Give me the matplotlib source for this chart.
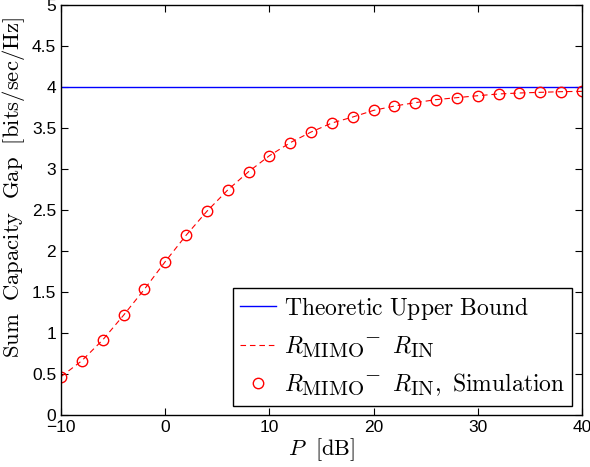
import matplotlib
matplotlib.use("Agg")
import matplotlib.pyplot as plt
import matplotlib._mathtext as mt
import numpy as np

# P [dB] and the sum capacity gap
p_db = np.arange(-10, 41, 2)
gap = [0.467, 0.662, 0.915, 1.216, 1.533, 1.870, 2.191, 2.484, 2.744, 2.967,
       3.162, 3.321, 3.451, 3.561, 3.634, 3.715, 3.768, 3.809, 3.846, 3.870,
       3.894, 3.915, 3.927, 3.935, 3.943, 3.947]
upper_bound = 4.0
x_range = [-10, 40]

plt.rcParams['font.family'] = ['Liberation Sans', 'DejaVu Sans']
plt.rcParams['mathtext.fontset'] = 'cm'
# MATLAB's latex subscripts look nearly full size
mt.SHRINK_FACTOR = 0.88

fig = plt.figure(figsize=(5.9, 4.67), dpi=100)
ax = fig.add_axes([61 / 590, 52 / 467, 521 / 590, 410 / 467])

ax.plot(x_range, [upper_bound, upper_bound], color='blue', lw=1.0,
        label=r'$\mathrm{Theoretic\ Upper\ Bound}$')
ax.plot(p_db, gap, color='red', lw=0.8, ls=(0, (5, 3.5)),
        label=r'${R_{\mathrm{MIMO}}}^{\!\!-}\ R_{\mathrm{IN}}$')
ax.plot(p_db, gap, ls='none', marker='o', ms=7.5, mfc='none', mec='red', mew=1.0,
        label=r'${R_{\mathrm{MIMO}}}^{\!\!-}\ R_{\mathrm{IN}},\ \mathrm{Simulation}$')

ax.set_xlim(-10, 40)
ax.set_ylim(0, 5)
ax.set_xticks(np.arange(-10, 41, 10))
ax.set_yticks(np.arange(0, 5.01, 0.5))
ax.set_yticklabels(['0', '0.5', '1', '1.5', '2', '2.5', '3', '3.5', '4', '4.5', '5'])
ax.tick_params(direction='in', top=True, right=True, labelsize=12.5, length=5, width=0.8)
for s in ax.spines.values():
    s.set_linewidth(1.0)

ax.set_xlabel(r'$P\ \ [\mathrm{dB}]$', fontsize=16, labelpad=1)
ax.set_ylabel(r'$\mathrm{Sum\ \ Capacity\ \ Gap\ \ [bits/sec/Hz]}$', fontsize=16.3)
ax.yaxis.set_label_coords(-0.066, 0.556)

leg = ax.legend(loc='lower right', bbox_to_anchor=(0.981, 0.023), borderaxespad=0,
                fontsize=17, fancybox=False, framealpha=1, edgecolor='black',
                handlelength=1.5, handletextpad=0.35, labelspacing=0.55,
                borderpad=0.3, numpoints=1)
leg.get_frame().set_linewidth(1.0)

fig.savefig('out.png', dpi=100)
